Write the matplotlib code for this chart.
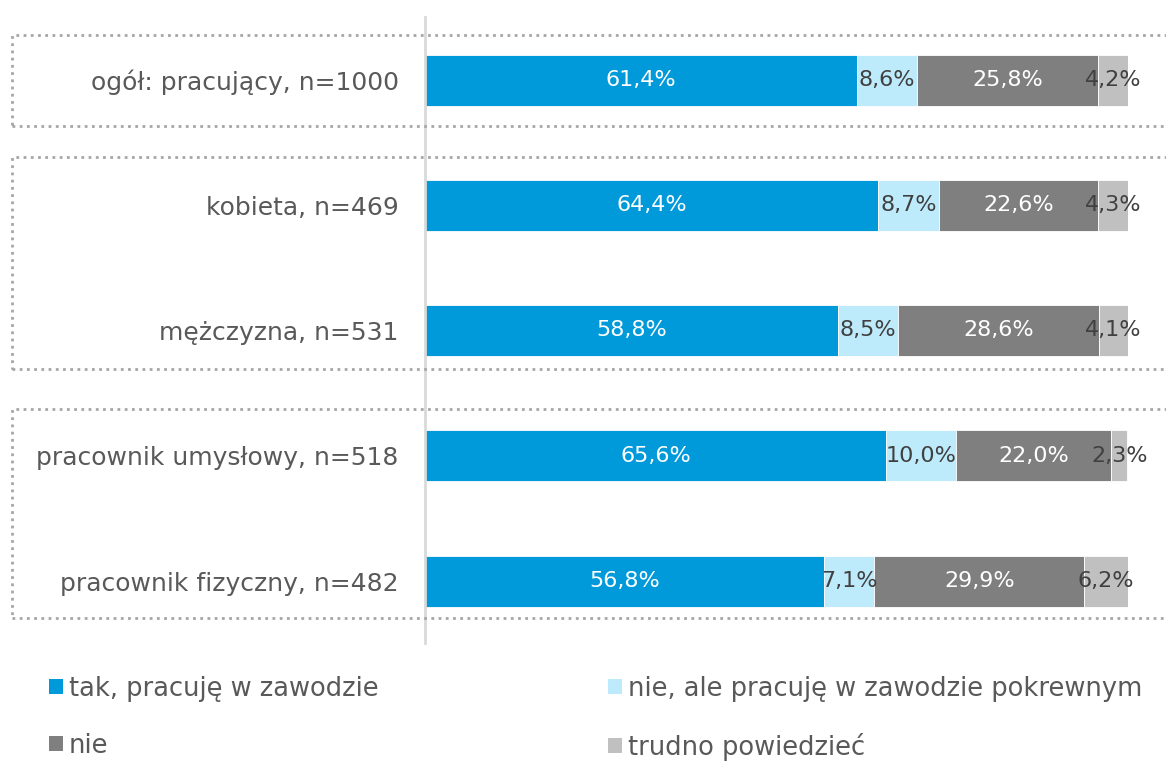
import matplotlib
matplotlib.use("Agg")
import matplotlib.pyplot as plt
from matplotlib.patches import Rectangle, Patch

categories = ["ogół: pracujący, n=1000", "kobieta, n=469", "mężczyzna, n=531",
              "pracownik umysłowy, n=518", "pracownik fizyczny, n=482"]
series_names = ["tak, pracuję w zawodzie", "nie, ale pracuję w zawodzie pokrewnym",
                "nie", "trudno powiedzieć"]
tak = [61.4, 64.4, 58.8, 65.6, 56.8]
pokrewny = [8.6, 8.7, 8.5, 10.0, 7.1]
nie = [25.8, 22.6, 28.6, 22.0, 29.9]
trudno = [4.2, 4.3, 4.1, 2.3, 6.2]
series = [tak, pokrewny, nie, trudno]

colors = ["#009ADA", "#BDEBFB", "#7F7F7F", "#C0C0C0"]
label_colors = ["white", "#404040", "white", "#404040"]
text_color = "#595959"

plt.rcParams['font.family'] = ['DejaVu Sans']

W, H = 1166, 762
fig = plt.figure(figsize=(W / 100, H / 100), dpi=100)

# axes in pixel coords
x0, x1 = 425, 1128
ytop, ybot = 17, 643
ax = fig.add_axes([x0 / W, 1 - ybot / H, (x1 - x0) / W, (ybot - ytop) / H])

c0 = 80.0
step = 125.25
ax.set_ylim((ybot - c0) / step, (ytop - c0) / step)
ax.set_xlim(0, 100)

ypos = list(range(len(categories)))
left = [0.0] * len(categories)
bar_h = 51 / step
for vals, col, lc, name in zip(series, colors, label_colors, series_names):
    bars = ax.barh(ypos, vals, left=left, height=bar_h, color=col,
                   edgecolor="white", linewidth=0.6, label=name)
    for b, v in zip(bars, vals):
        ax.text(b.get_x() + b.get_width() / 2, b.get_y() + b.get_height() / 2,
                f"{v:.1f}%".replace(".", ","), ha="center", va="center",
                color=lc, fontsize=16)
    left = [l + v for l, v in zip(left, vals)]

ax.set_yticks(ypos)
ax.set_yticklabels(categories, fontsize=18, color=text_color)
ax.tick_params(axis="y", length=0, pad=19)
ax.set_xticks([])
for s in ["top", "right", "bottom"]:
    ax.spines[s].set_visible(False)
ax.spines["left"].set_color("#D9D9D9")
ax.spines["left"].set_linewidth(2)

# dotted group boxes (figure pixel coords)
boxes = [(12, 35, 126), (12, 157, 369), (12, 409, 618)]
for bx, by0, by1 in boxes:
    r = Rectangle((bx / W, 1 - by1 / H), (W + 20 - bx) / W, (by1 - by0) / H,
                  transform=fig.transFigure, fill=False, edgecolor="#A6A6A6",
                  linewidth=2, linestyle=(0, (1, 1.6)), clip_on=False)
    fig.add_artist(r)

handles = [Patch(facecolor=c, edgecolor="none") for c in colors]
common = dict(loc="upper left", frameon=False, fontsize=18.5, handlelength=0.53,
              handleheight=0.53, handletextpad=0.25, labelspacing=1.2,
              labelcolor=text_color, borderaxespad=0, borderpad=0)
leg1 = fig.legend([handles[0], handles[2]], [series_names[0], series_names[2]],
                  bbox_to_anchor=(49 / W, 1 - 676 / H), **common)
leg2 = fig.legend([handles[1], handles[3]], [series_names[1], series_names[3]],
                  bbox_to_anchor=(608 / W, 1 - 676 / H), **common)

fig.savefig("out.png", dpi=100)
